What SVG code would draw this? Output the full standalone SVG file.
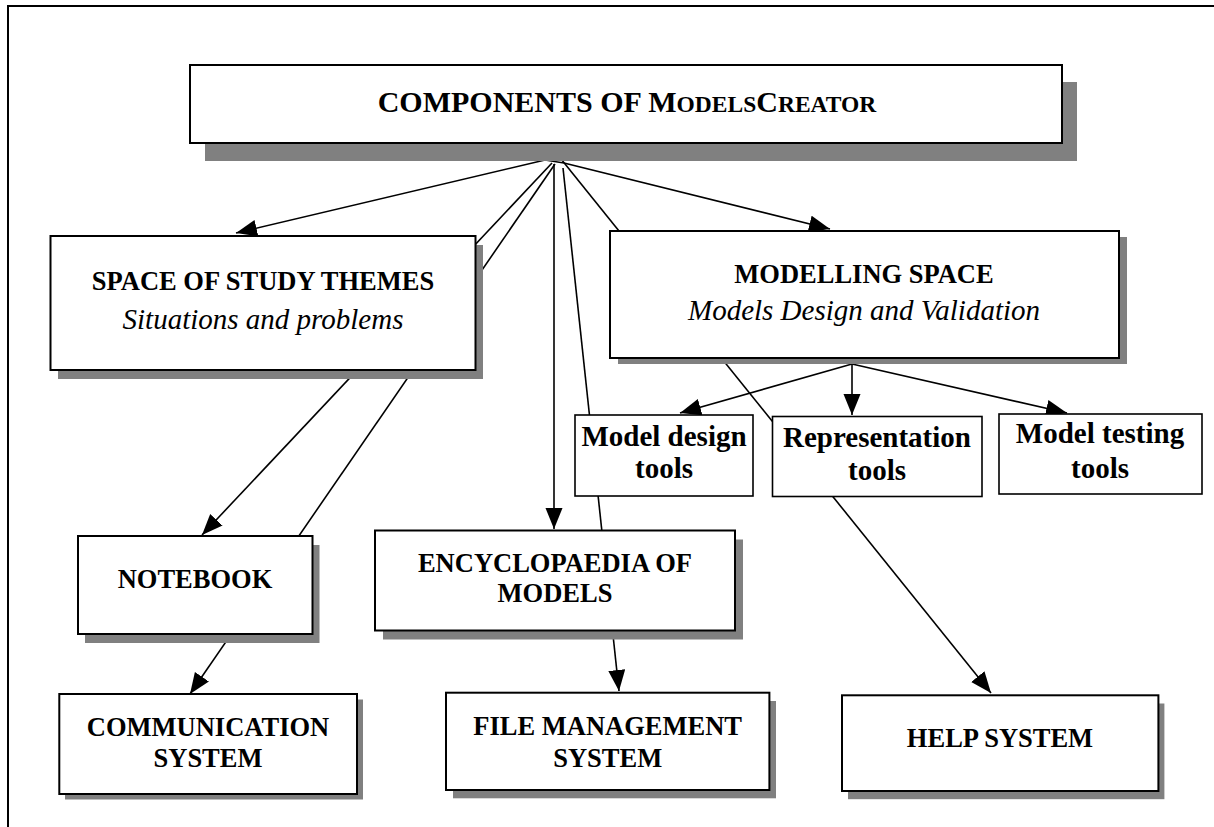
<svg xmlns="http://www.w3.org/2000/svg" width="1214" height="827" viewBox="0 0 1214 827">
<defs>
<marker id="ah" markerUnits="userSpaceOnUse" markerWidth="23" markerHeight="19" refX="21" refY="8.5" orient="auto">
<path d="M0,0 L21,8.5 L0,17 Z" fill="#000"/>
</marker>
<style>
.box{fill:#fff;stroke:#000;stroke-width:2}
.sbox{fill:#fff;stroke:#000;stroke-width:1.6}
.sh{fill:#808080}
.ln{stroke:#000;stroke-width:1.6;fill:none}
.ar{stroke:#000;stroke-width:1.6;fill:none;marker-end:url(#ah)}
text{font-family:"Liberation Serif","Times New Roman",serif;fill:#000;text-anchor:middle}
.b{font-weight:bold;font-size:26.5px}
.t{font-weight:bold;font-size:29px}
.i{font-style:italic;font-size:29px}
.ttl{font-weight:bold;font-size:30px}
.sc{font-size:23.5px}
</style>
</defs>
<rect x="8" y="6" width="1230" height="850" fill="#fff" stroke="#000" stroke-width="2"/>
<g id="connectors">
<path class="ln" d="M545,160 L564,163"/>
<line class="ar" x1="545" y1="160" x2="236" y2="233"/>
<line class="ar" x1="564" y1="163" x2="830" y2="229"/>
<line class="ar" x1="552" y1="163" x2="202" y2="535"/>
<line class="ar" x1="555" y1="164" x2="190" y2="694"/>
<line class="ar" x1="554" y1="164" x2="554" y2="529"/>
<line class="ar" x1="563" y1="168" x2="619" y2="691"/>
<line class="ar" x1="557" y1="154" x2="991" y2="693"/>
<line class="ar" x1="852" y1="364" x2="680" y2="413"/>
<line class="ar" x1="852" y1="364" x2="852" y2="415"/>
<line class="ar" x1="852" y1="364" x2="1067" y2="413"/>
</g>
<g id="n-top">
<rect class="sh" x="205" y="82" width="872" height="79"/>
<rect class="box" x="190" y="65" width="872" height="78"/>
<text class="ttl" x="627" y="112">COMPONENTS OF M<tspan class="sc">ODELS</tspan>C<tspan class="sc">REATOR</tspan></text>
</g>
<g id="n-space">
<rect class="sh" x="58" y="245" width="425" height="134"/>
<rect class="box" x="50.5" y="236" width="425" height="134"/>
<text class="b" x="263" y="290">SPACE OF STUDY THEMES</text>
<text class="i" x="263" y="329">Situations and problems</text>
</g>
<g id="n-modelling">
<rect class="sh" x="618" y="237" width="509" height="127"/>
<rect class="box" x="610" y="231" width="509" height="127"/>
<text class="b" x="864" y="283">MODELLING SPACE</text>
<text class="i" x="864" y="320">Models Design and Validation</text>
</g>
<g id="n-design">
<rect class="sbox" x="575" y="415" width="178" height="81"/>
<text class="t" x="664" y="446">Model design</text>
<text class="t" x="664" y="478">tools</text>
</g>
<g id="n-repr">
<rect class="sbox" x="772.5" y="416.5" width="209.5" height="80"/>
<text class="t" x="877" y="447">Representation</text>
<text class="t" x="877" y="480">tools</text>
</g>
<g id="n-testing">
<rect class="sbox" x="999" y="414" width="203" height="80"/>
<text class="t" x="1100" y="443">Model testing</text>
<text class="t" x="1100" y="478">tools</text>
</g>
<g id="n-notebook">
<rect class="sh" x="85" y="545" width="234.5" height="98"/>
<rect class="box" x="78" y="536" width="234.5" height="98"/>
<text class="b" x="195" y="588">NOTEBOOK</text>
</g>
<g id="n-encyclopaedia">
<rect class="sh" x="383" y="539.5" width="360" height="100"/>
<rect class="box" x="375" y="530.5" width="360" height="100"/>
<text class="b" x="555" y="571.5">ENCYCLOPAEDIA OF</text>
<text class="b" x="555" y="601.5">MODELS</text>
</g>
<g id="n-communication">
<rect class="sh" x="65" y="699.5" width="298" height="100"/>
<rect class="box" x="59.3" y="694" width="297.7" height="100"/>
<text class="b" x="208" y="736">COMMUNICATION</text>
<text class="b" x="208" y="766.5">SYSTEM</text>
</g>
<g id="n-file">
<rect class="sh" x="453" y="701" width="323" height="97.3"/>
<rect class="box" x="446" y="692.7" width="323.4" height="97.3"/>
<text class="b" x="607.7" y="735">FILE MANAGEMENT</text>
<text class="b" x="607.7" y="766.5">SYSTEM</text>
</g>
<g id="n-help">
<rect class="sh" x="848" y="703.5" width="316.4" height="95.7"/>
<rect class="box" x="842" y="695.3" width="316.4" height="95.7"/>
<text class="b" x="1000" y="746.7">HELP SYSTEM</text>
</g>
</svg>
